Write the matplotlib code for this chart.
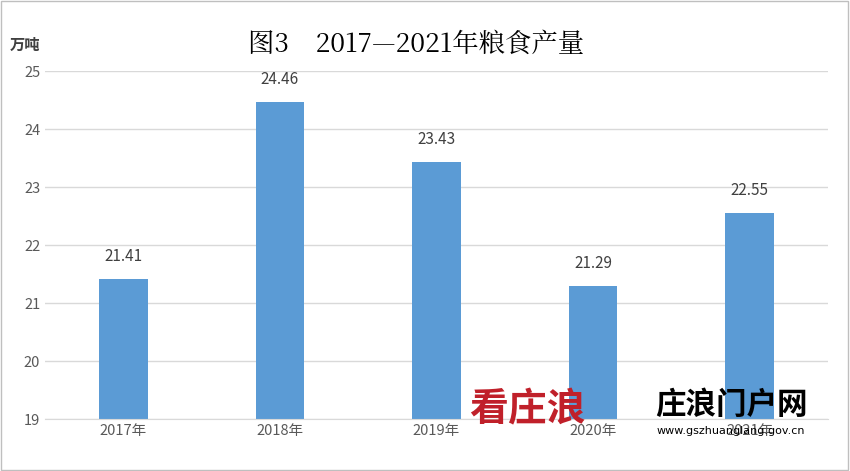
import matplotlib
matplotlib.use("Agg")
import matplotlib.pyplot as plt
from matplotlib.patches import Rectangle

plt.rcParams['font.family'] = ['Noto Sans CJK SC', 'DejaVu Sans']

categories = ['2017年', '2018年', '2019年', '2020年', '2021年']
values = [21.41, 24.46, 23.43, 21.29, 22.55]
yticks = [19, 20, 21, 22, 23, 24, 25]

fig = plt.figure(figsize=(8.5, 4.71), dpi=100)
ax = fig.add_axes([0.053, 0.110, 0.921, 0.739])
x = list(range(len(categories)))
ax.bar(x, [v - 19 for v in values], bottom=19, width=0.31, color='#5b9bd5', zorder=2)
for xi, v in zip(x, values):
    ax.text(xi, v + 0.25, f'{v:.2f}', ha='center', va='bottom', fontsize=11, color='#404040')
ax.set_ylim(19, 25)
ax.set_xlim(-0.5, 4.5)
ax.set_yticks(yticks)
ax.set_xticks(x)
ax.set_xticklabels(categories)
ax.tick_params(length=0, labelsize=10.5, colors='#595959')
ax.grid(axis='y', color='#d9d9d9', linewidth=1, zorder=0)
for s in ['top', 'right', 'left']:
    ax.spines[s].set_visible(False)
ax.spines['bottom'].set_color('#d9d9d9')

fig.text(0.49, 0.905, '图3　2017—2021年粮食产量', ha='center', va='center', fontsize=19,
         family=['Noto Serif CJK SC', 'Noto Sans CJK SC', 'DejaVu Sans'], color='#000000')
fig.text(0.012, 0.905, '万吨', ha='left', va='center', fontsize=11, fontweight='bold', color='#404040')

fig.text(0.62, 0.13, '看庄浪', fontsize=28, color='#c0202a', style='italic', fontweight='bold', ha='center', va='center')
fig.text(0.86, 0.14, '庄浪门户网', fontsize=22, color='#000000', fontweight='bold', ha='center', va='center')
fig.text(0.86, 0.085, 'www.gszhuanglang.gov.cn', fontsize=8, color='#000000', ha='center', va='center',
         family=['DejaVu Sans'])

fig.patches.append(Rectangle((0.001, 0.002), 0.997, 0.995, transform=fig.transFigure,
                             fill=False, edgecolor='#bfbfbf', linewidth=1))
fig.savefig('out.png', dpi=100)
